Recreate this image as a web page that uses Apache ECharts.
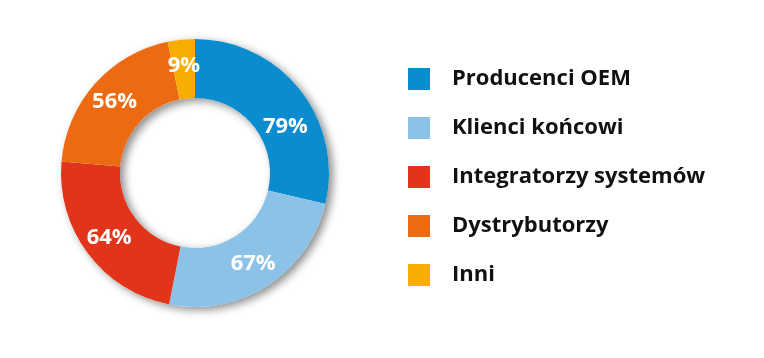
<!DOCTYPE html>
<html><head><meta charset="utf-8">
<script src="https://cdn.jsdelivr.net/npm/echarts@6/dist/echarts.min.js"></script>
<style>html,body{margin:0;padding:0;background:#fff}#c{width:764px;height:358px}</style>
</head><body><div id="c"></div>
<script>
const categories = ["Producenci OEM", "Klienci końcowi", "Integratorzy systemów", "Dystrybutorzy", "Inni"];
const values = [79, 67, 64, 56, 9];
const colors = ["#0a8ccf", "#8cc2e8", "#e2341a", "#eb6a12", "#f9ad00"];

const chart = echarts.init(document.getElementById('c'), null, {renderer: 'canvas'});
const center = [195, 173];
const radius = [75, 134];
chart.setOption({
  animation: false,
  color: colors,
  legend: {
    orient: 'vertical',
    left: 403, top: 63,
    itemWidth: 22, itemHeight: 22, itemGap: 27,
    icon: 'rect',
    data: categories,
    textStyle: {fontFamily: 'Open Sans', fontWeight: 'bold', fontSize: 22, color: '#111', padding: [0,0,0,17]},
    selectedMode: false
  },
  series: [
    {
      type: 'pie', silent: true, z: 1,
      center, radius,
      label: {show: false},
      itemStyle: {color: '#fff', shadowBlur: 8, shadowOffsetX: 4, shadowOffsetY: 3, shadowColor: 'rgba(0,0,0,0.45)'},
      data: [{value: 1, name: '_bg'}],
      legendHoverLink: false
    },
    {
      type: 'pie', z: 2,
      center, radius,
      startAngle: 90, clockwise: true,
      label: {
        show: true, position: 'inside',
        formatter: p => p.value + '%',
        color: '#fff', fontFamily: 'Open Sans', fontWeight: 'bold', fontSize: 22
      },
      labelLine: {show: false},
      itemStyle: {borderWidth: 0},
      data: categories.map((n, i) => ({
        name: n, value: values[i], itemStyle: {color: colors[i]},
        label: i === 0 ? {offset: [6, 20]} : undefined
      }))
    }
  ]
});
</script></body></html>
